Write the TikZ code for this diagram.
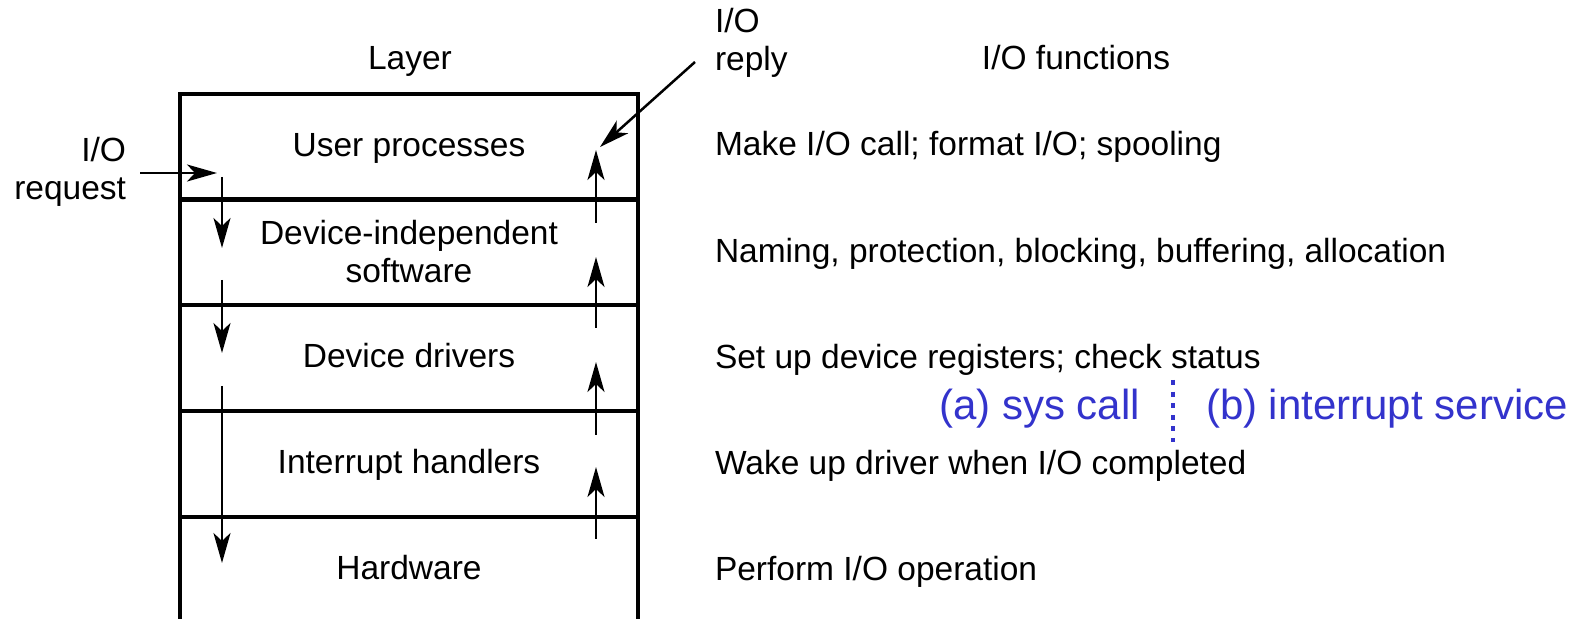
\documentclass[tikz,border=0pt]{standalone}
\usepackage{fontspec}
\setmainfont{Liberation Sans}
\usetikzlibrary{arrows.meta}
\definecolor{noteblue}{RGB}{51,51,204}
\begin{document}
\begin{tikzpicture}[x=0.5pt,y=-0.5pt,
  every node/.style={inner sep=0pt, outer sep=0pt, font=\fontsize{16.75pt}{19pt}\selectfont},
  layerrow/.style={draw, line width=1.75pt, minimum width=229pt, minimum height=53pt, align=center},
  oneline/.style={text height=12pt, text depth=2pt},
  flow/.style={line width=1.25pt, -{Stealth[length=15pt,width=8.5pt,inset=4pt]}},
  fn/.style={anchor=base west},
  note/.style={text=noteblue, font=\fontsize{21pt}{24pt}\selectfont},
  divider/.style={draw=noteblue, line width=2pt, dash pattern=on 2.5pt off 3.3pt}]
\useasboundingbox (0,0) rectangle (1585,619);
\clip (0,0) rectangle (1585,619);

% layer stack
\node[layerrow, oneline] (user)     at (409,147) {User processes};
\node[layerrow]          (indep)    at (409,252) {Device-independent\\software};
\node[layerrow, oneline] (drivers)  at (409,358) {Device drivers};
\node[layerrow, oneline] (handlers) at (409,464) {Interrupt handlers};
\node[layerrow, oneline] (hw)       at (409,570) {Hardware};

% column headings
\node[anchor=base] (layerhead) at (410,70)  {Layer};
\node[anchor=base] (fnhead)    at (1076,70) {I/O functions};

% request and reply labels (base anchor sits on the last line)
\node[anchor=base east, align=right] (request) at (126,200) {I/O\\request};
\node[anchor=base west, align=left]  (reply)   at (715,71)  {I/O\\reply};

% functions of each layer
\node[fn] (f1) at (715,156) {Make I/O call; format I/O; spooling};
\node[fn] (f2) at (715,263) {Naming, protection, blocking, buffering, allocation};
\node[fn] (f3) at (715,369) {Set up device registers; check status};
\node[fn] (f4) at (715,475) {Wake up driver when I/O completed};
\node[fn] (f5) at (715,581) {Perform I/O operation};

% the two paths
\node[note, anchor=base east] (syscall) at (1140,420) {(a) sys call};
\node[note, anchor=base west] (irq)     at (1206,420) {(b) interrupt service};
\coordinate (divtop) at (1173,380);
\coordinate (divbot) at (1173,442);
\draw[divider] (divtop) -- (divbot);

% incoming request and outgoing reply
\coordinate (reqfrom) at (140,173);
\coordinate (reqto)   at (217,173);
\draw[flow] (reqfrom) -- (reqto);
\coordinate (repfrom) at (695,62);
\coordinate (repto)   at (600,147);
\draw[flow] (repfrom) -- (repto);

% downward call path
\foreach \a/\b in {177/248, 280/353, 386/563}
  \draw[flow] (222,\a) -- (222,\b);
% upward completion path
\foreach \a/\b in {539/467, 435/362, 328/257, 223/150}
  \draw[flow] (596,\a) -- (596,\b);
\end{tikzpicture}
\end{document}
